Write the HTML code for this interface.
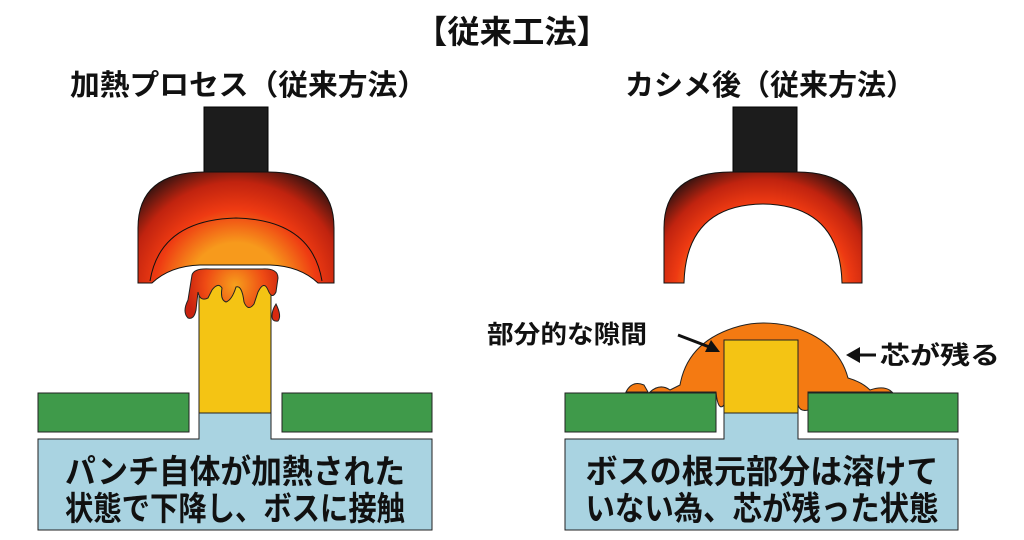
<!DOCTYPE html>
<html><head><meta charset="utf-8"><style>
html,body{margin:0;padding:0;background:#fff;}
svg{display:block;}
text{font-family:"Liberation Sans","Noto Sans CJK JP",sans-serif;fill:#111;font-weight:bold;}
</style></head><body>
<svg width="1024" height="540" viewBox="0 0 1024 540" xmlns="http://www.w3.org/2000/svg">
<defs>
<radialGradient id="hot" cx="236" cy="290" r="135" gradientUnits="userSpaceOnUse">
<stop offset="0.35" stop-color="#f79a1c"/>
<stop offset="0.6" stop-color="#ee3a12"/>
<stop offset="0.8" stop-color="#c0230f"/>
<stop offset="1" stop-color="#2a1210"/>
</radialGradient>
<radialGradient id="hot2" cx="763" cy="290" r="135" gradientUnits="userSpaceOnUse">
<stop offset="0.45" stop-color="#f79a1c"/>
<stop offset="0.65" stop-color="#ee3a12"/>
<stop offset="0.82" stop-color="#c0230f"/>
<stop offset="1" stop-color="#2a1210"/>
</radialGradient>
<radialGradient id="melt" cx="235" cy="285" r="50" gradientUnits="userSpaceOnUse">
<stop offset="0" stop-color="#f7a01c"/>
<stop offset="0.6" stop-color="#ee4a14"/>
<stop offset="1" stop-color="#c8220f"/>
</radialGradient>
</defs>

<text x="512" y="43" font-size="32" text-anchor="middle" textLength="194" lengthAdjust="spacingAndGlyphs">【従来工法】</text>
<text x="70" y="95" font-size="29" textLength="357" lengthAdjust="spacingAndGlyphs">加熱プロセス（従来方法）</text>
<text x="625" y="95" font-size="29" textLength="290" lengthAdjust="spacingAndGlyphs">カシメ後（従来方法）</text>

<!-- LEFT -->
<rect x="204" y="107" width="64" height="67" fill="#1c1c1c" stroke="#000"/>
<path d="M138,283 L138,228 Q138,172 205,172 L268,172 Q334,172 334,228 L334,283 L318,283 Q300,266 270,265 L200,265 Q170,266 152,283 Z" fill="url(#hot)" stroke="#111" stroke-width="1"/>
<path d="M150,281 Q160,220 236,218 Q312,220 322,281" fill="none" stroke="#111" stroke-width="1"/>
<rect x="199" y="280" width="72" height="134" fill="#f4c414" stroke="#222"/>
<path d="M192,275 Q194,268 210,269 L262,269 Q278,268 278,278 L276,292 Q272,300 268,290 Q264,280 258,292 L254,304 Q248,312 244,302 Q242,285 236,287 Q232,300 226,302 Q220,300 222,288 Q218,282 212,290 L208,298 Q200,302 198,292 L196,310 Q194,320 188,318 Q182,312 188,300 Z" fill="url(#melt)" stroke="#222" stroke-width="1"/>
<path d="M276,304 Q282,316 278,321 Q272,322 272,316 Q272,310 276,304 Z" fill="#d82a10" stroke="#222" stroke-width="1"/>
<rect x="38" y="393" width="151" height="39" fill="#3f9a4a" stroke="#222"/>
<rect x="282" y="393" width="150" height="39" fill="#3f9a4a" stroke="#222"/>
<path d="M199,413 L271,413 L271,439 L432,439 L432,530 L38,530 L38,439 L199,439 Z" fill="#a9d3e1" stroke="#222"/>
<text x="235" y="483" font-size="33" text-anchor="middle" textLength="340" lengthAdjust="spacingAndGlyphs">パンチ自体が加熱された</text>
<text x="235" y="520" font-size="33" text-anchor="middle" textLength="340" lengthAdjust="spacingAndGlyphs">状態で下降し、ボスに接触</text>

<!-- RIGHT -->
<rect x="733" y="107" width="64" height="67" fill="#1c1c1c" stroke="#000"/>
<path d="M664,283 L664,228 Q664,172 731,172 L797,172 Q862,172 862,228 L862,283 L842,283 Q840,205 763,204 Q686,205 684,283 Z" fill="url(#hot2)" stroke="#111" stroke-width="1"/>
<path d="M650,392 Q660,383 670,390 L680,385 Q688,340 740,326 Q763,320 790,326 Q838,340 848,378 Q862,382 870,390 Q885,385 892,392 L808,392 L808,410 Q800,412 798,405 L724,405 Q718,412 716,392 Z" fill="#f47a12" stroke="#222" stroke-width="1"/>
<path d="M626,392 Q632,380 644,385 L648,392 Z" fill="#f47a12" stroke="#222" stroke-width="1"/>
<rect x="724" y="340" width="74" height="74" fill="#f4c414" stroke="#222"/>
<rect x="565" y="393" width="151" height="39" fill="#3f9a4a" stroke="#222"/>
<rect x="808" y="393" width="150" height="39" fill="#3f9a4a" stroke="#222"/>
<path d="M724,413 L798,413 L798,439 L958,439 L958,530 L565,530 L565,439 L724,439 Z" fill="#a9d3e1" stroke="#222"/>
<text x="762" y="483" font-size="33" text-anchor="middle" textLength="353" lengthAdjust="spacingAndGlyphs">ボスの根元部分は溶けて</text>
<text x="762" y="520" font-size="33" text-anchor="middle" textLength="353" lengthAdjust="spacingAndGlyphs">いない為、芯が残った状態</text>

<text x="487" y="343" font-size="25" textLength="160" lengthAdjust="spacingAndGlyphs">部分的な隙間</text>
<line x1="678" y1="335" x2="712" y2="348" stroke="#111" stroke-width="3"/>
<path d="M720,352 L705,352 L711,340 Z" fill="#111"/>
<line x1="876" y1="355" x2="858" y2="355" stroke="#111" stroke-width="3"/>
<path d="M846,355 L860,347 L860,363 Z" fill="#111"/>
<text x="880" y="364" font-size="25" textLength="120" lengthAdjust="spacingAndGlyphs">芯が残る</text>
</svg>
</body></html>
